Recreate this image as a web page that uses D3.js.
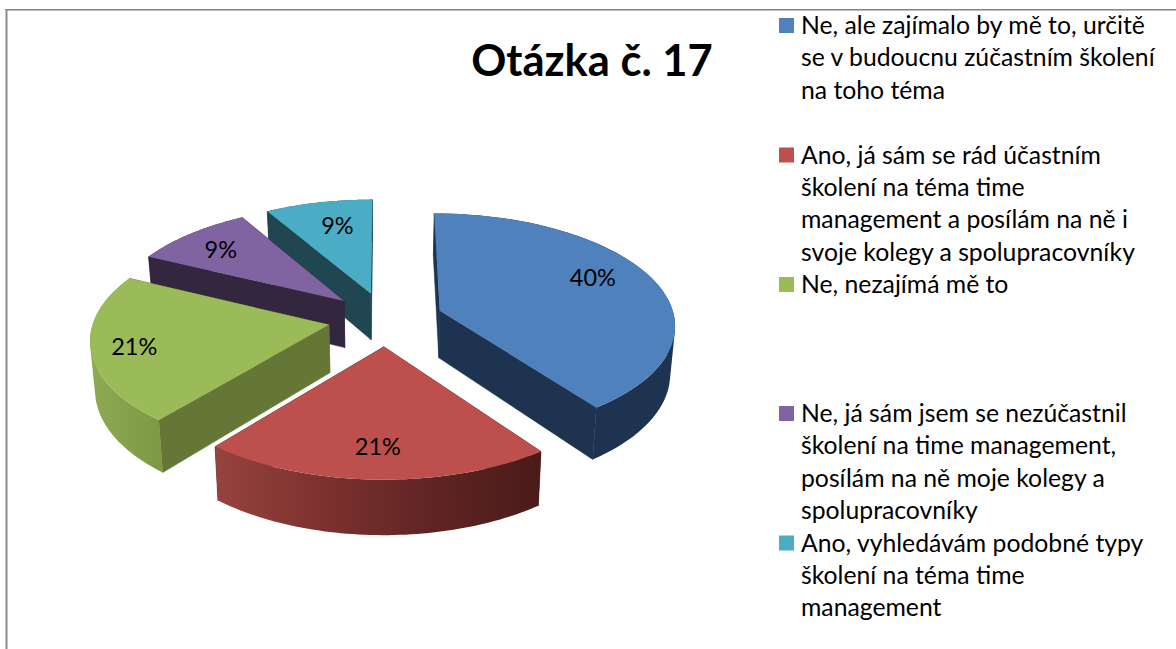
<!DOCTYPE html>
<html>
<head>
<meta charset="utf-8">
<script src="https://cdnjs.cloudflare.com/ajax/libs/d3/7.8.5/d3.min.js"></script>
<style>
  html, body { margin: 0; padding: 0; background: #fff; overflow: hidden; }
  svg { display: block; }
  text { font-family: Lato, "Noto Sans", sans-serif; fill: #000; }
</style>
</head>
<body>
<svg id="chart" width="1176" height="649"></svg>
<script>
// Chart data
const title = 'Otázka č. 17'
const values = [40, 20.9, 21.3, 9.4, 8.4]
const valueLabels = ['40%', '21%', '21%', '9%', '9%']
const legendLines = [
  ['Ne, ale zajímalo by mě to, určitě', 'se v budoucnu zúčastním školení', 'na toho téma'],
  ['Ano, já sám se rád účastním', 'školení na téma time', 'management a posílám na ně i', 'svoje kolegy a spolupracovníky'],
  ['Ne, nezajímá mě to'],
  ['Ne, já sám jsem se nezúčastnil', 'školení na time management,', 'posílám na ně moje kolegy a', 'spolupracovníky'],
  ['Ano, vyhledávám podobné typy', 'školení na téma time', 'management'],
]
const topColors = ['#4f81bd', '#bd4f4c', '#9bbb59', '#8064a2', '#4bacc6']
const wallColors = ['#1e3350', '#4f1e1c', '#647736', '#33273f', '#1f4651']

// Pie geometry, fitted by eye to the picture
const cx = 385.5
const cy = 319
const scaleX = 235
const scaleY = 110.4
const perspective = 0.116
const explode = 0.245
const depth = 47.5
const converge = 0.017
const drawOrder = [4, 3, 0, 2, 1]

const labelRadius = [0.95, 1.02, 1.07, 1, 1]
const labelNudge = [[2, -10], [0, 0], [1, 2], [-5, 1], [7, 3]]
const legendBaselines = [34, 163.5, 293, 422, 551.5]
const lineHeight = 32.4

const svg = d3.select('#chart')
const defs = svg.append('defs')

// Frame at the top and left of the picture
svg.append('rect').attr('x', 5).attr('y', 9).attr('width', 1171).attr('height', 1).attr('fill', '#858585')
svg.append('rect').attr('x', 6).attr('y', 10).attr('width', 1170).attr('height', 1).attr('fill', '#bdbdbd')
svg.append('rect').attr('x', 5.5).attr('y', 9).attr('width', 2).attr('height', 640).attr('fill', '#8c8c8c')

// world coords: x to the right, y away from viewer, radius = 1
function project(x, y) {
  const w = 1 + y * perspective
  return [cx + (scaleX * x) / w, cy - (scaleY * y) / w, w]
}

function drop(p) {
  return [cx + (p[0] - cx) * (1 - converge), p[1] + depth / p[2]]
}

const slices = d3.pie().sort(null).startAngle(0).endAngle(2 * Math.PI)(values)

slices.forEach((s) => {
  const mid = (s.startAngle + s.endAngle) / 2
  s.ox = explode * Math.sin(mid)
  s.oy = explode * Math.cos(mid)
  s.apex = project(s.ox, s.oy)
  s.arc = d3
    .range(0, 61)
    .map((i) => s.startAngle + ((s.endAngle - s.startAngle) * i) / 60)
    .map((a) => project(s.ox + Math.sin(a), s.oy + Math.cos(a)))
})

const line = d3.line()

// The rim is one path of small quads, all wound the same way, so the
// silhouette at the far left and right gets filled too
function rimPath(arc) {
  return d3
    .pairs(arc)
    .map(([a, b]) => {
      const quad = [a, b, drop(b), drop(a)].map((p) => [p[0], p[1]])
      if (d3.polygonArea(quad) < 0) quad.reverse()
      return line(quad) + 'Z'
    })
    .join('')
}

// Arc walls get a sideways shading on the red and green slices
function wallGradient(id, x1, x2, stops) {
  const g = defs
    .append('linearGradient')
    .attr('id', id)
    .attr('gradientUnits', 'userSpaceOnUse')
    .attr('x1', x1)
    .attr('x2', x2)
    .attr('y1', 0)
    .attr('y2', 0)
  stops.forEach((c, i) => {
    g.append('stop')
      .attr('offset', i / (stops.length - 1))
      .attr('stop-color', c)
  })
}
wallGradient('wall1', 215, 540, ['#97433f', '#7c312e', '#5f2523', '#4a1b19'])
wallGradient('wall2', 91, 162, ['#8eaa51', '#7e9845'])
const arcFills = ['#1e3350', 'url(#wall1)', 'url(#wall2)', '#33273f', '#1f4651']

const groups = svg
  .selectAll('.slice')
  .data(drawOrder.map((i) => slices[i]))
  .enter()
  .append('g')
  .attr('class', 'slice')

groups.each(function (s) {
  const g = d3.select(this)
  const first = s.arc[0]
  const last = s.arc[s.arc.length - 1]

  // two cut faces
  ;[first, last].forEach((edge) => {
    g.append('path')
      .attr('d', line([s.apex, edge, drop(edge), drop(s.apex)]) + 'Z')
      .attr('fill', wallColors[s.index])
      .attr('stroke', wallColors[s.index])
      .attr('stroke-width', 0.6)
  })

  // rim
  g.append('path')
    .attr('d', rimPath(s.arc))
    .attr('fill', arcFills[s.index])

  // top
  g.append('path')
    .attr('d', line([s.apex].concat(s.arc)) + 'Z')
    .attr('fill', topColors[s.index])
})

// Percent labels
svg
  .selectAll('.value')
  .data(slices)
  .enter()
  .append('text')
  .attr('class', 'value')
  .attr('text-anchor', 'middle')
  .attr('font-size', 23.5)
  .attr('x', (s) => {
    const mid = (s.startAngle + s.endAngle) / 2
    const u = labelRadius[s.index]
    return project(u * Math.sin(mid), u * Math.cos(mid))[0] + labelNudge[s.index][0]
  })
  .attr('y', (s) => {
    const mid = (s.startAngle + s.endAngle) / 2
    const u = labelRadius[s.index]
    return project(u * Math.sin(mid), u * Math.cos(mid))[1] + labelNudge[s.index][1] + 8
  })
  .text((s) => valueLabels[s.index])

// Title
svg
  .append('text')
  .attr('x', 592)
  .attr('y', 75.5)
  .attr('text-anchor', 'middle')
  .attr('font-size', 43.5)
  .attr('font-weight', 700)
  .text(title)

// Legend
const legend = svg
  .selectAll('.legend')
  .data(legendLines)
  .enter()
  .append('g')
  .attr('class', 'legend')
  .attr('transform', (d, i) => `translate(0,${legendBaselines[i]})`)

legend
  .append('rect')
  .attr('x', 779)
  .attr('y', -16)
  .attr('width', 15)
  .attr('height', 15)
  .attr('fill', (d, i) => topColors[i])

legend
  .selectAll('text')
  .data((d) => d)
  .enter()
  .append('text')
  .attr('x', 801)
  .attr('y', (d, i) => i * lineHeight)
  .attr('font-size', 24.75)
  .text((d) => d)
</script>
</body>
</html>
